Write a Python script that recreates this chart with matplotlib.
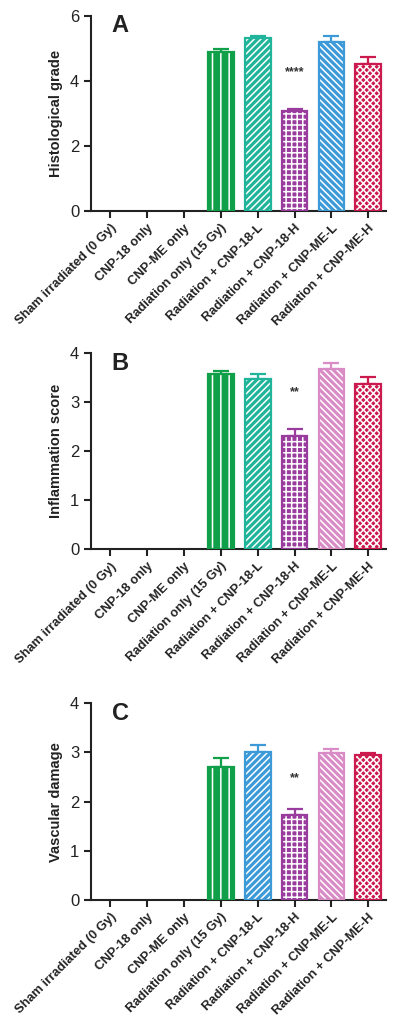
import matplotlib
matplotlib.use("Agg")
import matplotlib.pyplot as plt
import numpy as np

plt.rcParams['font.family'] = ['Liberation Sans', 'DejaVu Sans']
plt.rcParams['hatch.linewidth'] = 1.1

categories = ["Sham irradiated (0 Gy)", "CNP-18 only", "CNP-ME only",
              "Radiation only (15 Gy)", "Radiation + CNP-18-L",
              "Radiation + CNP-18-H", "Radiation + CNP-ME-L",
              "Radiation + CNP-ME-H"]

hist_vals = [0, 0, 0, 4.88, 5.31, 3.07, 5.21, 4.51]
hist_err = [0, 0, 0, 0.11, 0.08, 0.06, 0.16, 0.24]
infl_vals = [0, 0, 0, 3.58, 3.47, 2.32, 3.68, 3.38]
infl_err = [0, 0, 0, 0.06, 0.11, 0.14, 0.13, 0.14]
vasc_vals = [0, 0, 0, 2.70, 3.01, 1.73, 2.98, 2.95]
vasc_err = [0, 0, 0, 0.18, 0.15, 0.13, 0.09, 0.03]

GREEN = "#11a04a"
TEAL = "#20b59a"
PURPLE = "#9a3c9e"
BLUE = "#3c9ad8"
CRIMSON = "#cc1a4e"
PINK = "#d98bc6"

hatches = [None, None, None, "||", "/////", "+++", "\\\\\\\\\\", "xxxxx"]

panels = [
    dict(vals=hist_vals, err=hist_err, ylabel="Histological grade", letter="A",
         ymax=6, ticks=[0, 2, 4, 6],
         colors=[None, None, None, GREEN, TEAL, PURPLE, BLUE, CRIMSON],
         sig="****", sig_y=4.28, rect=[0.2275, 0.796, 0.7375, 0.1885]),
    dict(vals=infl_vals, err=infl_err, ylabel="Inflammation score", letter="B",
         ymax=4, ticks=[0, 1, 2, 3, 4],
         colors=[None, None, None, GREEN, TEAL, PURPLE, PINK, CRIMSON],
         sig="**", sig_y=3.2, rect=[0.2275, 0.469, 0.7375, 0.1893]),
    dict(vals=vasc_vals, err=vasc_err, ylabel="Vascular damage", letter="C",
         ymax=4, ticks=[0, 1, 2, 3, 4],
         colors=[None, None, None, GREEN, BLUE, PURPLE, PINK, CRIMSON],
         sig="**", sig_y=2.48, rect=[0.2275, 0.1296, 0.7375, 0.1902]),
]

fig = plt.figure(figsize=(4.0, 10.34), dpi=100)
x = np.arange(len(categories))
width = 0.7

for p in panels:
    ax = fig.add_axes(p["rect"])
    for i, (v, e, c, h) in enumerate(zip(p["vals"], p["err"], p["colors"], hatches)):
        if c is None:
            continue
        ax.errorbar(x[i], v, yerr=[[0], [e]], fmt='none', ecolor=c,
                    elinewidth=1.6, capsize=5.5, capthick=1.6, zorder=1)
        ax.bar(x[i], v, width=width, color=c, edgecolor='white', hatch=h,
               linewidth=0, zorder=2)
        ax.bar(x[i], v, width=width, fill=False, edgecolor=c, linewidth=1.6,
               zorder=3)
    ax.text(x[5], p["sig_y"], p["sig"], ha='center', va='center',
            fontsize=9, fontweight='bold', color='#333333')
    ax.text(0.07, 0.95, p["letter"], transform=ax.transAxes, fontsize=17,
            fontweight='bold', ha='left', va='center', color='#222222')
    ax.set_xlim(-0.52, 7.48)
    ax.set_ylim(0, p["ymax"])
    ax.set_yticks(p["ticks"])
    ax.set_yticklabels([str(t) for t in p["ticks"]], fontsize=12, color='#222222')
    ax.set_xticks(x)
    ax.set_xticklabels(categories, rotation=45, ha='right', rotation_mode='anchor',
                       fontsize=9.3, fontweight='bold', color='#222222')
    ax.set_ylabel(p["ylabel"], fontsize=10.5, fontweight='bold', color='#222222',
                  labelpad=5)
    for s in ['top', 'right']:
        ax.spines[s].set_visible(False)
    for s in ['left', 'bottom']:
        ax.spines[s].set_linewidth(1.5)
        ax.spines[s].set_color('#222222')
    ax.tick_params(axis='both', direction='out', width=1.5, length=5, color='#222222')
    ax.tick_params(axis='x', pad=3)

fig.savefig("out.png", dpi=100)
